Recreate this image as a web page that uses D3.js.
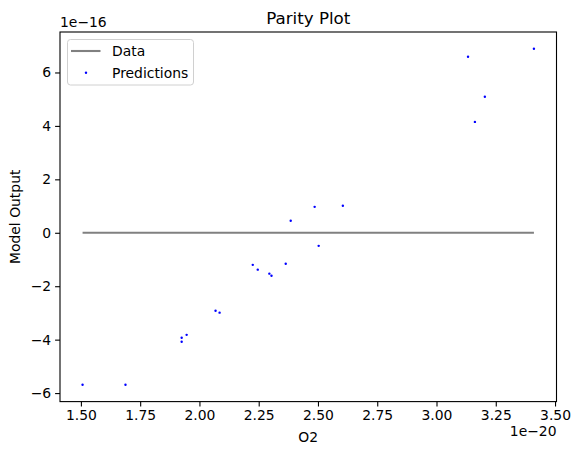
<!DOCTYPE html>
<html><head><meta charset="utf-8">
<script src="https://cdn.jsdelivr.net/npm/d3@7"></script>
<style>body{margin:0;background:#fff}svg{display:block}text{font-family:"DejaVu Sans",sans-serif;fill:#000}</style>
</head><body>
<script>
// O2 values (x, units of 1e-20) and model output (y, units of 1e-16)
const predX = [1.507, 1.688, 1.925, 1.925, 1.946, 2.068, 2.085, 2.225, 2.246, 2.295, 2.304, 2.364, 2.385, 2.486, 2.503, 2.605, 3.133, 3.162, 3.204, 3.411];
const predY = [-5.69, -5.69, -3.93, -4.08, -3.82, -2.92, -2.99, -1.20, -1.38, -1.53, -1.61, -1.16, 0.45, 0.97, -0.49, 1.01, 6.59, 4.15, 5.09, 6.886];
// Data (parity) line: y = x, expressed in 1e-16 units it is ~0
const dataX = [1.507, 3.411];
const dataY = [0.0001507, 0.0003411];
const xTicks = [1.50, 1.75, 2.00, 2.25, 2.50, 2.75, 3.00, 3.25, 3.50];
const yTicks = [-6, -4, -2, 0, 2, 4, 6];

const W = 577, H = 455;
const L = 60, R = 556.5, T = 32, B = 401.6;
const svg = d3.select("body").append("svg").attr("width", W).attr("height", H);

const allX = predX.concat(dataX), allY = predY.concat(dataY);
const [x0, x1] = d3.extent(allX), [y0, y1] = d3.extent(allY);
const mx = (x1 - x0) * 0.05, my = (y1 - y0) * 0.05;
const x = d3.scaleLinear().domain([x0 - mx, x1 + mx]).range([L, R]);
const y = d3.scaleLinear().domain([y0 - my, y1 + my]).range([B, T]);

const fmtMinus = s => s.replace("-", "\u2212");
const xAxis = d3.axisBottom(x).tickValues(xTicks).tickFormat(d => d.toFixed(2)).tickSizeOuter(0).tickSize(4.9).tickPadding(4);
const yAxis = d3.axisLeft(y).tickValues(yTicks).tickFormat(d => fmtMinus(String(d))).tickSizeOuter(0).tickSize(4.9).tickPadding(4);

const gx = svg.append("g").attr("transform", `translate(0,${B})`).call(xAxis);
const gy = svg.append("g").attr("transform", `translate(${L},0)`).call(yAxis);
[gx, gy].forEach(g => {
  g.select(".domain").remove();
  g.selectAll("text").attr("font-size", 13.9).attr("font-family", "DejaVu Sans").attr("fill", "#000");
  g.selectAll("line").attr("stroke", "#000").attr("stroke-width", 1.1);
});

// data line
svg.append("path").datum(dataX.map((d, i) => [d, dataY[i]]))
  .attr("d", d3.line().x(d => x(d[0])).y(d => y(d[1])))
  .attr("fill", "none").attr("stroke", "#808080").attr("stroke-width", 2.1);

// predictions
svg.append("g").selectAll("circle").data(predX.map((d, i) => [d, predY[i]])).join("circle")
  .attr("cx", d => x(d[0])).attr("cy", d => y(d[1])).attr("r", 1.2).attr("fill", "#0000ff");

// frame
svg.append("rect").attr("x", L).attr("y", T).attr("width", R - L).attr("height", B - T)
  .attr("fill", "none").attr("stroke", "#000").attr("stroke-width", 1.1);

// texts
svg.append("text").attr("x", (L + R) / 2).attr("y", T - 8).attr("text-anchor", "middle").attr("font-size", 16.7).text("Parity Plot");
svg.append("text").attr("x", (L + R) / 2).attr("y", 442).attr("text-anchor", "middle").attr("font-size", 13.9).text("O2");
svg.append("text").attr("transform", `translate(20,${(T + B) / 2}) rotate(-90)`).attr("text-anchor", "middle").attr("font-size", 13.9).text("Model Output");
svg.append("text").attr("x", L).attr("y", T - 5).attr("font-size", 13.9).text("1e\u221216");
svg.append("text").attr("x", R).attr("y", 436).attr("text-anchor", "end").attr("font-size", 13.9).text("1e\u221220");

// legend
const lg = svg.append("g");
lg.append("rect").attr("x", 67.5).attr("y", 39.5).attr("width", 126).attr("height", 45.5).attr("rx", 3)
  .attr("fill", "#fff").attr("fill-opacity", 0.8).attr("stroke", "#d0d0d0").attr("stroke-width", 1);
lg.append("line").attr("x1", 71).attr("x2", 100.5).attr("y1", 51).attr("y2", 51).attr("stroke", "#808080").attr("stroke-width", 2.1);
lg.append("circle").attr("cx", 86).attr("cy", 72.7).attr("r", 1.2).attr("fill", "#0000ff");
lg.append("text").attr("x", 112).attr("y", 56).attr("font-size", 13.9).text("Data");
lg.append("text").attr("x", 112).attr("y", 77.5).attr("font-size", 13.9).text("Predictions");
</script>
</body></html>
